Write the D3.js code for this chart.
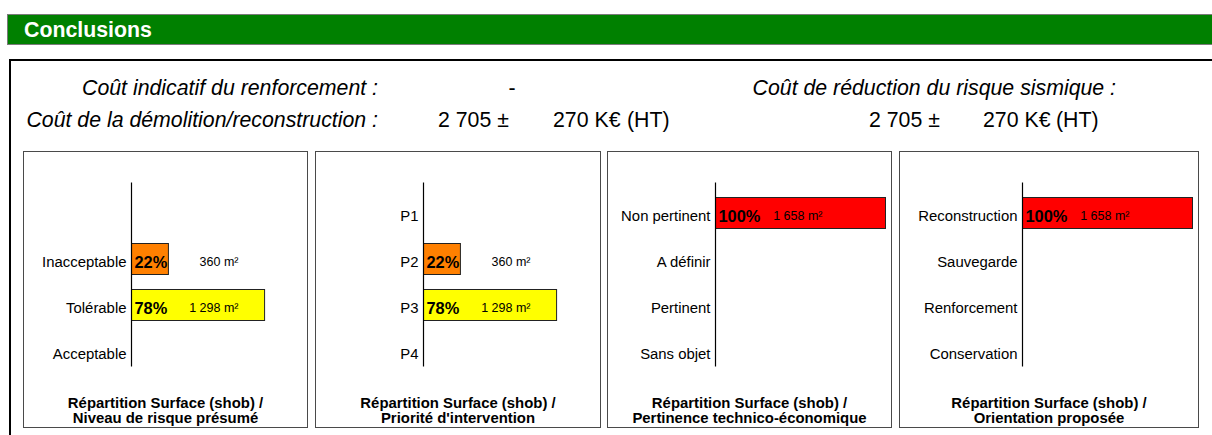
<!DOCTYPE html>
<html>
<head>
<meta charset="utf-8">
<script src="https://cdn.jsdelivr.net/npm/d3@7"></script>
<style>
  html, body { margin: 0; padding: 0; background: #fff; }
  svg { display: block; font-family: "Liberation Sans", Arial, Helvetica, sans-serif; }
</style>
</head>
<body>
<svg id="chart" width="1212" height="435"></svg>
<script>
// Building data: surfaces (m² SHOB) per category for each breakdown
const totalSurface = 1658;

const riskCategories = ["", "Inacceptable", "Tolérable", "Acceptable"];
const riskSurfaces = [0, 360, 1298, 0];
const riskColors = ["#ff0000", "#ff8000", "#ffff00", "#00b050"];

const priorityCategories = ["P1", "P2", "P3", "P4"];
const prioritySurfaces = [0, 360, 1298, 0];
const priorityColors = ["#ff0000", "#ff8000", "#ffff00", "#00b050"];

const relevanceCategories = ["Non pertinent", "A définir", "Pertinent", "Sans objet"];
const relevanceSurfaces = [1658, 0, 0, 0];
const relevanceColors = ["#ff0000", "#ff8000", "#ffff00", "#00b050"];

const orientationCategories = ["Reconstruction", "Sauvegarde", "Renforcement", "Conservation"];
const orientationSurfaces = [1658, 0, 0, 0];
const orientationColors = ["#ff0000", "#ff8000", "#ffff00", "#00b050"];

const panelTitles = [
  ["Répartition Surface (shob) /", "Niveau de risque présumé"],
  ["Répartition Surface (shob) /", "Priorité d'intervention"],
  ["Répartition Surface (shob) /", "Pertinence technico-économique"],
  ["Répartition Surface (shob) /", "Orientation proposée"]
];

// Cost estimates (K€ HT)
const reinforcementCost = null;
const demolitionCost = 2705;
const demolitionMargin = 270;
const riskReductionCost = 2705;
const riskReductionMargin = 270;

// ---------------------------------------------------------------
const fr = d3.formatLocale({ decimal: ",", thousands: " ", grouping: [3], currency: ["", " €"] });
const fmtInt = fr.format(",d");
const fmtPct = d3.format(".0%");

const svg = d3.select("#chart");

// Section header
svg.append("rect")
  .attr("x", 7.5).attr("y", 14.5).attr("width", 1220).attr("height", 30)
  .attr("fill", "#008000").attr("stroke", "#7a7a7a").attr("stroke-width", 1);
svg.append("text")
  .attr("x", 24).attr("y", 37)
  .attr("fill", "#fff").attr("font-weight", "bold").attr("font-size", 21.3)
  .text("Conclusions");

// Frame around the conclusions block
svg.append("rect")
  .attr("x", 10).attr("y", 60).attr("width", 1220).attr("height", 400)
  .attr("fill", "none").attr("stroke", "#000").attr("stroke-width", 2);

// Cost lines
const costs = svg.append("g").attr("font-size", 21.3).attr("fill", "#000");
costs.append("text").attr("x", 378).attr("y", 95).attr("text-anchor", "end")
  .attr("font-style", "italic").text("Coût indicatif du renforcement :");
costs.append("text").attr("x", 512).attr("y", 95).attr("text-anchor", "middle")
  .text(reinforcementCost == null ? "-" : fmtInt(reinforcementCost));
costs.append("text").attr("x", 1116).attr("y", 95).attr("text-anchor", "end")
  .attr("font-style", "italic").text("Coût de réduction du risque sismique :");

costs.append("text").attr("x", 378).attr("y", 127).attr("text-anchor", "end")
  .attr("font-style", "italic").text("Coût de la démolition/reconstruction :");

function costPair(xValue, xMargin, xUnit, value, margin) {
  costs.append("text").attr("x", xValue).attr("y", 127)
    .text(fmtInt(value) + " ±");
  costs.append("text").attr("x", xMargin).attr("y", 127)
    .text(fmtInt(margin) + " K€");
  costs.append("text").attr("x", xUnit).attr("y", 127)
    .text("(HT)");
}
costPair(438, 553, 627, demolitionCost, demolitionMargin);
costPair(869, 983, 1056, riskReductionCost, riskReductionMargin);

// ---------------------------------------------------------------
// Horizontal bar panels
const panels = [
  { cats: riskCategories, vals: riskSurfaces, colors: riskColors, x: 23, w: 284, axisOff: 108 },
  { cats: priorityCategories, vals: prioritySurfaces, colors: priorityColors, x: 315, w: 285, axisOff: 108 },
  { cats: relevanceCategories, vals: relevanceSurfaces, colors: relevanceColors, x: 607, w: 284, axisOff: 108 },
  { cats: orientationCategories, vals: orientationSurfaces, colors: orientationColors, x: 899, w: 299, axisOff: 123 }
];

const panelTop = 151.5, panelBottom = 427.5;
const x = d3.scaleLinear().domain([0, 1]).range([0, 170]);

panels.forEach((p, i) => {
  const g = svg.append("g").attr("transform", `translate(${p.x + 0.5},0)`);
  g.append("rect")
    .attr("x", 0).attr("y", panelTop).attr("width", p.w).attr("height", panelBottom - panelTop)
    .attr("fill", "#fff").attr("stroke", "#4a4a4a").attr("stroke-width", 1);

  const y = d3.scaleBand().domain(p.cats.map((c, k) => k))
    .range([190, 374]).paddingInner(0.326).paddingOuter(0.163);

  const ax = p.axisOff;
  const data = p.cats.map((c, k) => ({ k, cat: c, val: p.vals[k], color: p.colors[k] }));

  // bars
  g.selectAll("rect.bar").data(data.filter(d => d.val > 0)).join("rect")
    .attr("class", "bar")
    .attr("x", ax).attr("y", d => y(d.k))
    .attr("width", d => x(d.val / totalSurface)).attr("height", y.bandwidth())
    .attr("fill", d => d.color).attr("stroke", "#222").attr("stroke-width", 1);

  // category axis line
  g.append("line")
    .attr("x1", ax).attr("x2", ax)
    .attr("y1", y(0) - y.step() * y.paddingInner()).attr("y2", y(p.cats.length - 1) + y.bandwidth())
    .attr("stroke", "#000").attr("stroke-width", 1.2);

  // category labels
  g.selectAll("text.cat").data(data).join("text")
    .attr("class", "cat")
    .attr("x", ax - 5).attr("y", d => y(d.k) + y.bandwidth() / 2 + 7.5)
    .attr("text-anchor", "end").attr("font-size", 14.9)
    .text(d => d.cat);

  // percentage and surface labels
  const shown = data.filter(d => d.val > 0);
  g.selectAll("text.pct").data(shown).join("text")
    .attr("class", "pct")
    .attr("x", ax + 3).attr("y", d => y(d.k) + y.bandwidth() / 2 + 8.5)
    .attr("font-size", 16.4).attr("font-weight", "bold")
    .text(d => fmtPct(d.val / totalSurface));
  g.selectAll("text.area").data(shown).join("text")
    .attr("class", "area")
    .attr("x", ax + 107).attr("y", d => y(d.k) + y.bandwidth() / 2 + 7)
    .attr("text-anchor", "end").attr("font-size", 12.5)
    .text(d => fmtInt(d.val) + " m²");

  // panel title
  const t = g.append("text").attr("text-anchor", "middle")
    .attr("font-size", 14.9).attr("font-weight", "bold");
  panelTitles[i].forEach((line, j) => {
    t.append("tspan").attr("x", p.w / 2).attr("y", 408 + j * 14.5).text(line);
  });
});
</script>
</body>
</html>
